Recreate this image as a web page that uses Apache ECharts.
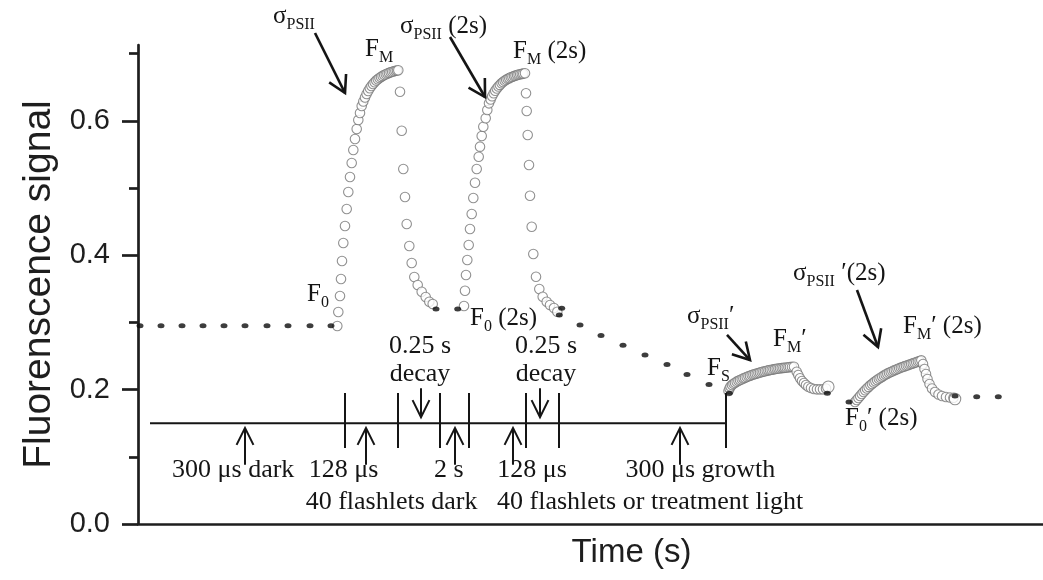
<!DOCTYPE html>
<html><head><meta charset="utf-8">
<script src="https://cdn.jsdelivr.net/npm/echarts@6/dist/echarts.min.js"></script>
<style>html,body{margin:0;padding:0;background:#fff}#chart{width:1043px;height:580px}</style>
</head><body><div id="chart"></div>
<script>
// ---------- data (x = time, arbitrary units; y = fluorescence signal) ----------
const yTickValues = [0, 0.2, 0.4, 0.6];
const yMinorValues = [0.1, 0.3, 0.5, 0.7];

const darkDots = [
  [2,0.295],[23,0.295],[44,0.295],[65,0.295],[86,0.295],[107,0.295],[129,0.295],[150,0.295],[172,0.295],[193,0.295],
  [298,0.320],[319.7,0.320],
  [423.7,0.321],[421.3,0.311],[442,0.296],[463,0.2805],[485,0.266],[507,0.2515],[529,0.2374],[549,0.2225],[571,0.2076],[591.3,0.1945],
  [689.3,0.1945],[711,0.1815],
  [817,0.1905],[838.7,0.1894],[860.3,0.1894]
];

const fmRise1 = [
  [199.3,0.2946],[200.3,0.3155],[202,0.3393],[203,0.3646],[204,0.3914],[205.3,0.4182],[207,0.4435],[208.7,0.4688],
  [210.3,0.4940],[212,0.5164],[213.7,0.5372],[215.3,0.5565],[217,0.5729],[218.7,0.5878],[220.3,0.6012],[222,0.6116],
  [223.7,0.6220],[225.3,0.6287],[227,0.6347],[228.6,0.6399],[230.2,0.6443],[231.8,0.6484],[233.4,0.6518],[235,0.6548],
  [236.6,0.6574],[238.2,0.6598],[239.8,0.6619],[241.4,0.6637],[243,0.6653],[244.6,0.6668],[246.2,0.6682],[247.8,0.6693],
  [249.4,0.6704],[251,0.6713],[252.6,0.6722],[254.2,0.6729],[255.8,0.6737],[257.4,0.6743],[259,0.6749],[260.3,0.6753]
];
const fmDecay1 = [
  [262,0.6433],[263.7,0.5853],[265.3,0.5283],[267,0.4866],[268.7,0.4464],[271.3,0.4137],[273.7,0.3884],
  [276.3,0.3676],[279.7,0.3557],[283.7,0.3457],[287.7,0.3378],[291.3,0.3308],[294.7,0.3274]
];
const fmRise2 = [
  [326,0.3244],[327,0.3472],[328,0.3705],[329.3,0.3929],[330.7,0.4152],[332,0.4390],[333.7,0.4613],[335.3,0.4851],
  [337,0.5079],[338.7,0.5283],[340.7,0.5466],[342,0.5615],[343.7,0.5774],[345.3,0.5912],[347.7,0.6037],[349.3,0.6161],
  [351,0.6260],[352.6,0.6317],[354.1,0.6366],[355.7,0.6411],[357.2,0.6448],[358.8,0.6481],[360.4,0.6510],[361.9,0.6534],
  [363.5,0.6557],[365,0.6577],[366.6,0.6595],[368.2,0.6610],[369.7,0.6624],[371.3,0.6635],[372.8,0.6647],[374.4,0.6656],
  [376,0.6665],[377.5,0.6673],[379.1,0.6680],[380.6,0.6688],[382.2,0.6693],[383.8,0.6698],[385.3,0.6702],[387,0.6707]
];
const fmDecay2 = [
  [388,0.6409],[388.7,0.6146],[389.7,0.5789],[391,0.5342],[392,0.4885],[393.7,0.4424],[395.3,0.4018],
  [398,0.3680],[401.3,0.3497],[404.7,0.3382],[408.7,0.3308],[412,0.3259],[416,0.3214],[419.3,0.3159]
];
const fsRise1 = [
  [590.5,0.1979],[591.5,0.2016],[592.5,0.2046],[594,0.2068],[595.5,0.2086],[597,0.2103],[598.7,0.2118],[600.4,0.2131],
  [602,0.2143],[603.7,0.2155],[605.4,0.2167],[607,0.2177],[608.7,0.2188],[610.4,0.2198],[612,0.2207],[613.7,0.2216],
  [615.4,0.2225],[617,0.2232],[618.7,0.2240],[620.4,0.2247],[622,0.2254],[623.7,0.2262],[625.4,0.2268],[627,0.2274],
  [628.7,0.2280],[630.4,0.2286],[632,0.2292],[633.7,0.2296],[635.4,0.2301],[637,0.2305],[638.7,0.2310],[640.4,0.2314],
  [642,0.2317],[643.7,0.2320],[645.4,0.2323],[647,0.2326],[648.7,0.2329],[650.4,0.2332],[652,0.2335],[654,0.2338],[656,0.2339]
];
const fsDecay1 = [
  [658.7,0.2266],[660.3,0.2217],[662,0.2168],[664,0.2128],[666,0.2098],[668,0.2068],[670.3,0.2043],
  [673,0.2024],[676,0.2009],[679,0.2004],[682,0.2004],[685,0.2004],[688,0.2016]
];
const fsRise2 = [
  [717,0.1815],[718.7,0.1845],[720.4,0.1875],[722.1,0.1905],[723.8,0.1935],[725.5,0.1964],[727.2,0.1991],[728.9,0.2016],
  [730.6,0.2040],[732.3,0.2063],[734,0.2083],[735.7,0.2104],[737.4,0.2124],[739.1,0.2143],[740.8,0.2161],[742.5,0.2177],
  [744.2,0.2193],[745.9,0.2208],[747.6,0.2223],[749.3,0.2237],[751,0.2250],[752.7,0.2262],[754.4,0.2274],[756.1,0.2286],
  [757.8,0.2296],[759.5,0.2307],[761.2,0.2317],[762.9,0.2327],[764.6,0.2336],[766.3,0.2345],[768,0.2354],[769.7,0.2363],
  [771.4,0.2372],[773.1,0.2381],[774.8,0.2390],[776.5,0.2399],[778.2,0.2408],[779.9,0.2417],[781.6,0.2426],[783.3,0.2435]
];
const fsDecay2 = [
  [785,0.2381],[786.5,0.2307],[788,0.2232],[789.5,0.2158],[791.5,0.2083],[794,0.2016],[797,0.1964],
  [800.5,0.1927],[804,0.1905],[808,0.1890],[812,0.1882],[815.5,0.1878]
];
const endCircles = [[690.3,0.2043],[817,0.1860]];

// timing diagram (schematic, in data units)
const timingLevel = 0.150;
const timingSpan = [12, 588];
const timingTicks = [207, 260, 302, 331, 388, 421, 588];
const timingTickRange = [0.113, 0.195];
const upArrows = [107, 228, 317, 375, 542];
const upArrowRange = [0.088, 0.143];      // tail, tip
const downArrows = [283, 402];
const downArrowRange = [0.202, 0.159];    // tail, tip

const timingTexts = [
  ['0.25 s', 282, 0.2515], ['decay', 282, 0.2098],
  ['0.25 s', 408, 0.2515], ['decay', 408, 0.2098],
  ['300 μs dark', 95.2, 0.0665], ['128 μs', 205.6, 0.0665], ['2 s', 310.8, 0.0665],
  ['128 μs', 394, 0.0665], ['300 μs growth', 562.4, 0.0665],
  ['40 flashlets dark', 253.6, 0.0193], ['40 flashlets', 418.6, 0.0193], ['or treatment light', 575, 0.0193]
];

// annotation arrows: [x1, y1, x2(tip), y2(tip)]
const annArrows = [
  [177, 0.7307, 207, 0.6414],
  [312, 0.7247, 347, 0.6354],
  [589, 0.2813, 612, 0.2440],
  [719, 0.3482, 740, 0.2634]
];
// annotation labels: anchor x, baseline y, parts [text, isSubscript]
const annLabels = [
  [135, 0.7426, [['σ',0],['PSII',1]]],
  [227, 0.6935, [['F',0],['M',1]]],
  [262, 0.7277, [['σ',0],['PSII',1],[' (2s)',0]]],
  [375, 0.6905, [['F',0],['M',1],[' (2s)',0]]],
  [169, 0.3289, [['F',0],['0',1]]],
  [332, 0.2932, [['F',0],['0',1],[' (2s)',0]]],
  [569, 0.2188, [['F',0],['S',1]]],
  [549, 0.2961, [['σ',0],['PSII',1],['′',0]]],
  [635, 0.2619, [['F',0],['M',1],['′',0]]],
  [655, 0.3601, [['σ',0],['PSII',1],[' ′(2s)',0]]],
  [765, 0.2813, [['F',0],['M',1],['′ (2s)',0]]],
  [707, 0.1443, [['F',0],['0',1],['′ (2s)',0]]]
];

// ---------- build helper structures ----------
const segments = []; // [x1,y1,x2,y2,kind] kind 0=line,1=timing arrow,2=annotation arrow
segments.push([timingSpan[0], timingLevel, timingSpan[1], timingLevel, 0]);
timingTicks.forEach(x => segments.push([x, timingTickRange[0], x, timingTickRange[1], 0]));
upArrows.forEach(x => segments.push([x, upArrowRange[0], x, upArrowRange[1], 1]));
downArrows.forEach(x => segments.push([x, downArrowRange[0], x, downArrowRange[1], 1]));
annArrows.forEach(a => segments.push([a[0], a[1], a[2], a[3], 2]));

const SERIF = '"Liberation Serif", "Times New Roman", serif';
const SANS = '"Liberation Sans", Arial, sans-serif';
const INK = '#151515';
const measureCtx = document.createElement('canvas').getContext('2d');
function textW(t, font) { measureCtx.font = font; return measureCtx.measureText(t).width; }

function renderSegment(params, api) {
  const p1 = api.coord([api.value(0), api.value(1)]);
  const p2 = api.coord([api.value(2), api.value(3)]);
  const kind = api.value(4);
  const lw = kind === 2 ? 2.6 : 2;
  const style = { stroke: INK, lineWidth: lw, fill: null, lineJoin: 'miter' };
  const children = [{ type: 'line', shape: { x1: p1[0], y1: p1[1], x2: p2[0], y2: p2[1] }, style: style }];
  if (kind > 0) {
    const ang = Math.atan2(p1[1] - p2[1], p1[0] - p2[0]);
    const half = kind === 2 ? 0.52 : 0.46;
    const len = 19;
    const a = [p2[0] + len * Math.cos(ang + half), p2[1] + len * Math.sin(ang + half)];
    const b = [p2[0] + len * Math.cos(ang - half), p2[1] + len * Math.sin(ang - half)];
    children.push({ type: 'polyline', shape: { points: [a, p2, b] }, style: style });
  }
  return { type: 'group', children: children };
}

const MAIN_SIZE = 25, SUB_SIZE = 16, SUB_DROP = 5;
function renderLabel(params, api) {
  const L = annLabels[params.dataIndex];
  const p = api.coord([L[0], L[1]]);
  let x = p[0];
  const children = [];
  L[2].forEach(part => {
    const size = part[1] ? SUB_SIZE : MAIN_SIZE;
    const font = size + 'px ' + SERIF;
    const base = p[1] + (part[1] ? SUB_DROP : 0);
    children.push({ type: 'text', x: x, y: base - 0.34 * size,
      style: { text: part[0], font: font, fill: INK, align: 'left', verticalAlign: 'middle' } });
    x += textW(part[0], font);
  });
  return { type: 'group', children: children };
}

const TIMING_SIZE = 26;
function renderTimingText(params, api) {
  const T = timingTexts[params.dataIndex];
  const p = api.coord([T[1], T[2]]);
  return { type: 'text', x: p[0], y: p[1] - 0.34 * TIMING_SIZE,
    style: { text: T[0], font: TIMING_SIZE + 'px ' + SERIF, fill: INK, align: 'center', verticalAlign: 'middle' } };
}

const circleStyle = { color: '#ffffff', borderColor: '#757575', borderWidth: 1.1 };
function circleSeries(data) {
  return { type: 'scatter', data: data, symbol: 'circle', symbolSize: 9.5, itemStyle: circleStyle, z: 3, silent: true };
}

const axisLineStyle = { color: '#1e1e1e', width: 2.7 };
const option = {
  animation: false,
  backgroundColor: '#ffffff',
  grid: { left: 138, right: 0, top: 45, bottom: 56 },
  xAxis: {
    type: 'value', min: 0, max: 905,
    axisLine: { show: true, onZero: false, lineStyle: axisLineStyle },
    axisTick: { show: false }, axisLabel: { show: false }, splitLine: { show: false },
    name: 'Time (s)', nameLocation: 'middle', nameGap: 12,
    nameTextStyle: { fontFamily: SANS, fontSize: 33, color: '#1e1e1e', padding: [0, 0, 0, 82] }
  },
  yAxis: [
    {
      type: 'value', min: 0, max: 0.7128,
      axisLine: { show: true, onZero: false, lineStyle: axisLineStyle },
      axisTick: { show: true, length: 16, customValues: yTickValues, lineStyle: axisLineStyle },
      axisLabel: { show: true, customValues: yTickValues, formatter: v => v.toFixed(1),
        fontFamily: SANS, fontSize: 29, color: '#1e1e1e', margin: 28 },
      splitLine: { show: false },
      name: 'Fluorenscence signal', nameLocation: 'middle', nameGap: 78,
      nameTextStyle: { fontFamily: SANS, fontSize: 39, color: '#1e1e1e' }
    },
    {
      type: 'value', min: 0, max: 0.7128, position: 'left', offset: 0,
      axisLine: { show: false },
      axisTick: { show: true, length: 9, customValues: yMinorValues, lineStyle: axisLineStyle },
      axisLabel: { show: false }, splitLine: { show: false }
    }
  ],
  series: [
    circleSeries(fmRise1.concat(fmDecay1)),
    circleSeries(fmRise2.concat(fmDecay2)),
    circleSeries(fsRise1.concat(fsDecay1)),
    circleSeries(fsRise2.concat(fsDecay2)),
    { type: 'scatter', data: endCircles, symbol: 'circle', symbolSize: 11.5, itemStyle: circleStyle, z: 3, silent: true },
    { type: 'scatter', data: darkDots, symbol: 'circle', symbolSize: [7, 5], itemStyle: { color: '#0d0d0d' }, z: 4, silent: true },
    { type: 'custom', data: segments, renderItem: renderSegment, encode: { x: [0, 2], y: [1, 3] }, z: 5, silent: true },
    { type: 'custom', data: timingTexts.map(t => [t[1], t[2]]), renderItem: renderTimingText, z: 5, silent: true },
    { type: 'custom', data: annLabels.map(l => [l[0], l[1]]), renderItem: renderLabel, z: 5, silent: true }
  ]
};
const chart = echarts.init(document.getElementById('chart'), null, { renderer: 'canvas' });
chart.setOption(option);
</script></body></html>
